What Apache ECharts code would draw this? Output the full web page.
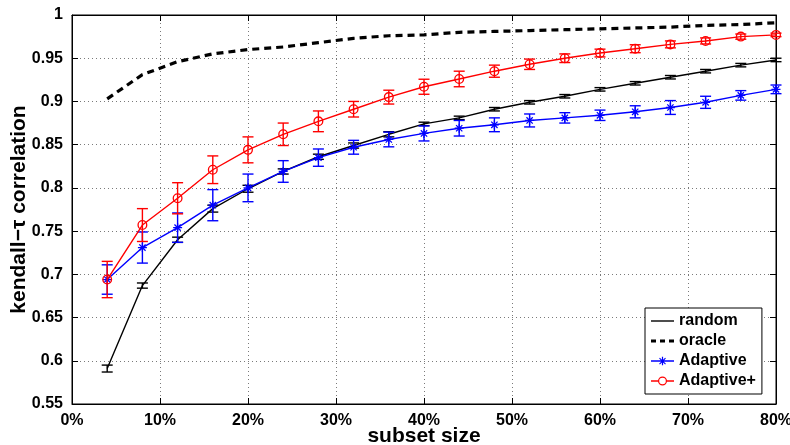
<!DOCTYPE html>
<html><head><meta charset="utf-8">
<script src="https://cdn.jsdelivr.net/npm/echarts@6/dist/echarts.min.js"></script>
<style>html,body{margin:0;padding:0;background:#fff}#c{width:790px;height:445px}</style>
</head><body><div id="c"></div>
<script>
// ---- data ----
const subsetSize = [4, 8, 12, 16, 20, 24, 28, 32, 36, 40, 44, 48, 52, 56, 60, 64, 68, 72, 76, 80];
const randomMean = [0.591, 0.687, 0.740, 0.776, 0.799, 0.819, 0.836, 0.849, 0.862, 0.874, 0.881, 0.891, 0.899, 0.906, 0.914, 0.921, 0.928, 0.935, 0.942, 0.948];
const randomErr  = [0.004, 0.003, 0.003, 0.004, 0.004, 0.003, 0.003, 0.003, 0.003, 0.002, 0.002, 0.002, 0.002, 0.002, 0.002, 0.002, 0.002, 0.002, 0.002, 0.002];
const oracleMean = [0.903, 0.931, 0.946, 0.955, 0.960, 0.963, 0.968, 0.973, 0.976, 0.977, 0.980, 0.981, 0.982, 0.983, 0.984, 0.985, 0.986, 0.988, 0.989, 0.991];
const adaptiveMean = [0.694, 0.731, 0.754, 0.780, 0.800, 0.819, 0.835, 0.847, 0.856, 0.863, 0.869, 0.873, 0.878, 0.881, 0.884, 0.888, 0.893, 0.899, 0.907, 0.914];
const adaptiveErr  = [0.017, 0.018, 0.017, 0.018, 0.016, 0.0125, 0.010, 0.008, 0.0085, 0.0087, 0.009, 0.008, 0.0075, 0.006, 0.006, 0.007, 0.008, 0.007, 0.0055, 0.005];
const adaptivePlusMean = [0.694, 0.757, 0.788, 0.821, 0.844, 0.862, 0.877, 0.891, 0.905, 0.917, 0.926, 0.935, 0.943, 0.950, 0.956, 0.961, 0.966, 0.970, 0.975, 0.977];
const adaptivePlusErr  = [0.021, 0.019, 0.018, 0.016, 0.015, 0.013, 0.012, 0.009, 0.008, 0.0087, 0.009, 0.007, 0.006, 0.005, 0.0045, 0.0046, 0.004, 0.0035, 0.003, 0.002];
const xTickLabels = ['0%', '10%', '20%', '30%', '40%', '50%', '60%', '70%', '80%'];
const yTickLabels = ['0.55', '0.6', '0.65', '0.7', '0.75', '0.8', '0.85', '0.9', '0.95', '1'];
const seriesNames = ['random', 'oracle', 'Adaptive', 'Adaptive+'];
const xAxisName = 'subset size';
const yAxisName = 'kendall\u2212\u03c4 correlation';

// ---- chart ----
const FONT = '"Liberation Sans", Arial, Helvetica, sans-serif';
const asteriskPath = 'path://M-0.7,-5 L0.7,-5 L0.7,5 L-0.7,5 Z M-5,-0.7 L5,-0.7 L5,0.7 L-5,0.7 Z M-3,-4 L4,3 L3,4 L-4,-3 Z M3,-4 L4,-3 L-3,4 L-4,3 Z';
const ringPath = 'path://M0,-5 A5,5 0 1,1 0,5 A5,5 0 1,1 0,-5 Z M0,-3.7 A3.7,3.7 0 1,0 0,3.7 A3.7,3.7 0 1,0 0,-3.7 Z';
// legend icons (23 x 12 box)
const iconSolid = 'path://M0,5.3 L23,5.3 L23,6.7 L0,6.7 Z';
const iconDashed = 'path://M0,4.5 L5,4.5 L5,7.5 L0,7.5 Z M9,4.5 L14,4.5 L14,7.5 L9,7.5 Z M18,4.5 L23,4.5 L23,7.5 L18,7.5 Z';
const iconAsterisk = 'path://M0,5.35 L23,5.35 L23,6.65 L0,6.65 Z M10.9,1.8 L12.1,1.8 L12.1,10.2 L10.9,10.2 Z M7.3,5.4 L15.7,5.4 L15.7,6.6 L7.3,6.6 Z M8.9,2.7 L14.9,8.7 L14.1,9.5 L8.1,3.5 Z M14.1,2.7 L14.9,3.5 L8.9,9.5 L8.1,8.7 Z';
const iconRing = 'path://M0,5.35 L7.2,5.35 L7.2,6.65 L0,6.65 Z M15.8,5.35 L23,5.35 L23,6.65 L15.8,6.65 Z M11.5,1.5 A4.5,4.5 0 1,1 11.5,10.5 A4.5,4.5 0 1,1 11.5,1.5 Z M11.5,2.7 A3.3,3.3 0 1,0 11.5,9.3 A3.3,3.3 0 1,0 11.5,2.7 Z';

function pairs(mean) { return subsetSize.map((x, i) => [x, mean[i]]); }
function errSeries(color, mean, err, z) {
  return {
    type: 'custom', z: z, silent: true, animation: false,
    data: subsetSize.map((x, i) => [x, mean[i] - err[i], mean[i] + err[i]]),
    encode: { x: 0, y: [1, 2] },
    renderItem: function (params, api) {
      const x = api.value(0), lo = api.value(1), hi = api.value(2);
      const p1 = api.coord([x, lo]), p2 = api.coord([x, hi]);
      const w = 5.5;
      const st = { stroke: color, lineWidth: 1.4, fill: null };
      return { type: 'group', children: [
        { type: 'line', shape: { x1: p1[0], y1: p1[1], x2: p2[0], y2: p2[1] }, style: st },
        { type: 'line', shape: { x1: p1[0] - w, y1: p1[1], x2: p1[0] + w, y2: p1[1] }, style: st },
        { type: 'line', shape: { x1: p2[0] - w, y1: p2[1], x2: p2[0] + w, y2: p2[1] }, style: st }
      ] };
    }
  };
}

const chart = echarts.init(document.getElementById('c'), null, { renderer: 'canvas' });
function axisLine() { return { show: true, onZero: false, lineStyle: { color: '#000', width: 1 } }; }
function axisTick() { return { show: true, inside: true, length: 6, lineStyle: { color: '#000', width: 1 } }; }
function labelStyle() { return { color: '#000', fontWeight: 'bold', fontSize: 16, fontFamily: FONT }; }
function nameStyle() { return { color: '#000', fontWeight: 'bold', fontSize: 21, fontFamily: FONT }; }
function gridLine() { return { show: true, lineStyle: { type: [1, 3], color: '#7a7a7a', width: 1 } }; }

chart.setOption({
  animation: false,
  backgroundColor: '#fff',
  grid: { left: 72, right: 14, top: 15, bottom: 41, containLabel: false, outerBoundsMode: 'none',
          show: true, borderColor: '#000', borderWidth: 1, backgroundColor: 'transparent' },
  legend: {
    orient: 'vertical', left: 645, top: 308,
    itemWidth: 23, itemHeight: 12, itemGap: 4,
    padding: [5, 6, 5, 6],
    borderColor: '#000', borderWidth: 1, backgroundColor: '#fff',
    textStyle: { color: '#000', fontWeight: 'bold', fontSize: 16, fontFamily: FONT },
    data: [
      { name: seriesNames[0], icon: iconSolid },
      { name: seriesNames[1], icon: iconDashed },
      { name: seriesNames[2], icon: iconAsterisk },
      { name: seriesNames[3], icon: iconRing }
    ]
  },
  xAxis: [{
    type: 'value', min: 0, max: 80, interval: 10, position: 'bottom',
    axisLine: axisLine(), axisTick: axisTick(),
    axisLabel: { ...labelStyle(), margin: 9, formatter: v => xTickLabels[Math.round(v / 10)] },
    splitLine: gridLine(),
    name: xAxisName, nameLocation: 'middle', nameGap: 22, nameMoveOverlap: false, nameTextStyle: nameStyle()
  }, {
    type: 'value', min: 0, max: 80, interval: 10, position: 'top',
    axisLine: axisLine(), axisTick: axisTick(),
    axisLabel: { show: false }, splitLine: { show: false }
  }],
  yAxis: [{
    type: 'value', min: 0.55, max: 1, interval: 0.05, position: 'left',
    axisLine: axisLine(), axisTick: axisTick(),
    axisLabel: { ...labelStyle(), margin: 9, formatter: v => yTickLabels[Math.round((v - 0.55) / 0.05)] },
    splitLine: gridLine(),
    name: yAxisName, nameLocation: 'middle', nameGap: 42, nameMoveOverlap: false, nameTextStyle: nameStyle()
  }, {
    type: 'value', min: 0.55, max: 1, interval: 0.05, position: 'right',
    axisLine: axisLine(), axisTick: axisTick(),
    axisLabel: { show: false }, splitLine: { show: false }
  }],
  series: [
    { type: 'line', name: seriesNames[0], data: pairs(randomMean), symbol: 'none', clip: false, z: 3,
      lineStyle: { color: '#000', width: 1.4 }, itemStyle: { color: '#000' } },
    errSeries('#000', randomMean, randomErr, 3),
    { type: 'line', name: seriesNames[1], data: pairs(oracleMean), symbol: 'none', clip: false, z: 4,
      lineStyle: { color: '#000', width: 3.2, type: [7, 5] }, itemStyle: { color: '#000' } },
    errSeries('#0000ff', adaptiveMean, adaptiveErr, 5),
    { type: 'line', name: seriesNames[2], data: pairs(adaptiveMean), symbol: asteriskPath, symbolSize: 9,
      clip: false, z: 5, lineStyle: { color: '#0000ff', width: 1.4 }, itemStyle: { color: '#0000ff' } },
    errSeries('#ff0000', adaptivePlusMean, adaptivePlusErr, 6),
    { type: 'line', name: seriesNames[3], data: pairs(adaptivePlusMean), symbol: ringPath, symbolSize: 10,
      clip: false, z: 6, lineStyle: { color: '#ff0000', width: 1.4 }, itemStyle: { color: '#ff0000' } }
  ]
});
</script>
</body></html>
